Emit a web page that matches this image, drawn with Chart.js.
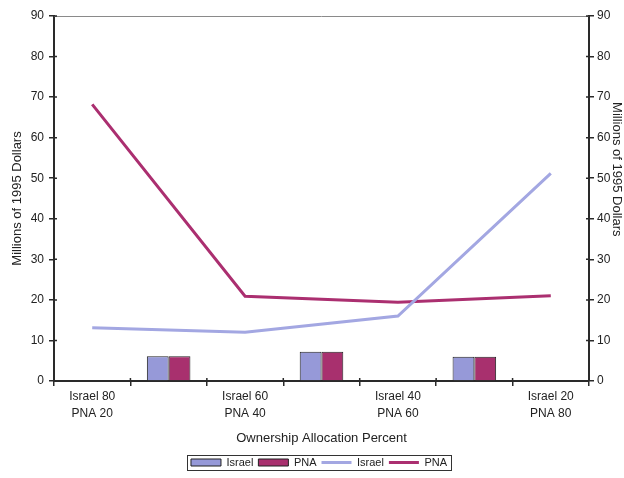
<!DOCTYPE html>
<html>
<head>
<meta charset="utf-8">
<script src="https://cdn.jsdelivr.net/npm/chart.js@4/dist/chart.umd.min.js"></script>
<style>
  html, body { margin: 0; padding: 0; background: #fff; }
  #wrap { width: 624px; height: 478px; }
</style>
</head>
<body>
<div id="wrap"><canvas id="c" width="624" height="478"></canvas></div>
<script>
// Ownership split scenarios (labelled on every other slot; bars sit between them)
const categories = [
  ['Israel 80', 'PNA 20'], '',
  ['Israel 60', 'PNA 40'], '',
  ['Israel 40', 'PNA 60'], '',
  ['Israel 20', 'PNA 80']
];
// Bar series (millions of 1995 dollars)
const israelBars = [null, 6.1, null, 7.2, null, 6.0, null];
const pnaBars    = [null, 6.1, null, 7.2, null, 6.0, null];
// Line series (millions of 1995 dollars)
const israelLine = [13.1, null, 12.0, null, 16.0, null, 51.2];
const pnaLine    = [68.2, null, 20.9, null, 19.4, null, 21.0];
// Value axis range and title
const yMin = 0, yMax = 90, yStep = 10;
const yTitle = 'Millions of 1995 Dollars';

const BLUE = '#9699d8';
const MAGENTA = '#a8306e';
const LINE_BLUE = '#a3a7e2';
const LINE_MAGENTA = '#ab2f70';
const AXIS = '#2a2a2a';
const TEXT = '#222';
const FONT = '"Liberation Sans", Arial, sans-serif';

Chart.defaults.font.family = FONT;
Chart.defaults.font.size = 12;
Chart.defaults.color = TEXT;

// Small tick stubs inside the plot, a grey top frame line, the right-hand
// axis title (set a little above centre) and a boxed legend
const decorations = {
  id: 'decorations',
  afterLayout(chart) {
    // nudge the legend row a little right of the canvas centre
    chart.legend.left += 7;
    chart.legend.right += 7;
  },
  afterDraw(chart) {
    const { ctx, chartArea: a, scales } = chart;
    ctx.save();
    ctx.strokeStyle = '#8a8a8a';
    ctx.lineWidth = 1;
    ctx.beginPath();
    ctx.moveTo(a.left, a.top + 0.5);
    ctx.lineTo(a.right, a.top + 0.5);
    ctx.stroke();

    ctx.strokeStyle = AXIS;
    ctx.lineWidth = 1.5;
    ctx.beginPath();
    scales.y.ticks.forEach(t => {
      const py = scales.y.getPixelForValue(t.value);
      ctx.moveTo(a.left, py); ctx.lineTo(a.left + 3, py);
      ctx.moveTo(a.right, py); ctx.lineTo(a.right - 3, py);
    });
    const x = scales.x;
    for (let i = 0; i < categories.length - 1; i++) {
      const px = (x.getPixelForValue(i) + x.getPixelForValue(i + 1)) / 2;
      ctx.moveTo(px, a.bottom); ctx.lineTo(px, a.bottom - 3);
    }
    ctx.stroke();

    // right axis title, reading top to bottom
    const r = scales.y2;
    ctx.save();
    ctx.translate(r.right - 7, a.top + (a.bottom - a.top) * 0.42);
    ctx.rotate(Math.PI / 2);
    ctx.font = '13px ' + FONT;
    ctx.fillStyle = TEXT;
    ctx.textAlign = 'center';
    ctx.textBaseline = 'middle';
    ctx.fillText(yTitle, 0, 0);
    ctx.restore();

    const boxes = chart.legend.legendHitBoxes;
    if (boxes && boxes.length) {
      const l = Math.min(...boxes.map(b => b.left)) - 4;
      const rr = Math.max(...boxes.map(b => b.left + b.width)) + 4;
      const t = Math.min(...boxes.map(b => b.top)) - 2;
      const btm = Math.max(...boxes.map(b => b.top + b.height)) + 2;
      ctx.strokeStyle = '#333';
      ctx.lineWidth = 1;
      ctx.strokeRect(Math.round(l) + 0.5, Math.round(t) + 0.5, Math.round(rr - l), Math.round(btm - t));
    }
    ctx.restore();
  }
};

new Chart(document.getElementById('c'), {
  data: {
    labels: categories,
    datasets: [
      { type: 'bar', label: 'Israel', data: israelBars, backgroundColor: BLUE, borderColor: '#222', borderWidth: 1, categoryPercentage: 0.57, barPercentage: 1.0 },
      { type: 'bar', label: 'PNA', data: pnaBars, backgroundColor: MAGENTA, borderColor: '#222', borderWidth: 1, categoryPercentage: 0.57, barPercentage: 1.0 },
      { type: 'line', label: 'Israel', data: israelLine, borderColor: LINE_BLUE, borderWidth: 3, pointRadius: 0, spanGaps: true, tension: 0 },
      { type: 'line', label: 'PNA', data: pnaLine, borderColor: LINE_MAGENTA, borderWidth: 3, pointRadius: 0, spanGaps: true, tension: 0 }
    ]
  },
  options: {
    responsive: false,
    animation: false,
    devicePixelRatio: 1,
    layout: { padding: { top: 16, left: 0, right: 0, bottom: 0 } },
    plugins: {
      tooltip: { enabled: false },
      legend: {
        position: 'bottom',
        labels: {
          usePointStyle: true,
          pointStyleWidth: 30,
          boxHeight: 7,
          padding: 5,
          font: { size: 11 },
          color: TEXT,
          generateLabels(chart) {
            const items = Chart.defaults.plugins.legend.labels.generateLabels(chart);
            items.forEach(it => {
              const ds = chart.data.datasets[it.datasetIndex];
              if (ds.type === 'line') {
                it.pointStyle = 'line';
                it.strokeStyle = ds.borderColor;
                it.lineWidth = 3;
              } else {
                it.pointStyle = 'rect';
                it.fillStyle = ds.backgroundColor;
                it.strokeStyle = '#222';
                it.lineWidth = 1;
              }
            });
            return items;
          }
        }
      }
    },
    scales: {
      x: {
        type: 'category',
        offset: true,
        grid: { offset: true, drawOnChartArea: false, tickLength: 5, color: AXIS, lineWidth: 1.5 },
        border: { color: AXIS, width: 2 },
        ticks: { autoSkip: false, maxRotation: 0, padding: 3, color: TEXT, font: { size: 12, lineHeight: 1.35 } },
        title: { display: true, text: 'Ownership Allocation Percent', color: TEXT, font: { size: 13 }, padding: { top: 6, bottom: 6 } }
      },
      y: {
        position: 'left',
        min: yMin, max: yMax,
        grid: { drawOnChartArea: false, tickLength: 5, color: AXIS, lineWidth: 1.5 },
        border: { color: AXIS, width: 2 },
        ticks: { stepSize: yStep, padding: 5, color: TEXT },
        title: { display: true, text: yTitle, color: TEXT, font: { size: 13 }, padding: { top: 10, bottom: 0 } },
        afterFit(scale) { scale.width = 54; }
      },
      y2: {
        position: 'right',
        min: yMin, max: yMax,
        grid: { drawOnChartArea: false, tickLength: 5, color: AXIS, lineWidth: 1.5 },
        border: { color: AXIS, width: 2 },
        ticks: { stepSize: yStep, padding: 3, color: TEXT },
        afterFit(scale) { scale.width = 35; }
      }
    }
  },
  plugins: [decorations]
});
</script>
</body>
</html>
